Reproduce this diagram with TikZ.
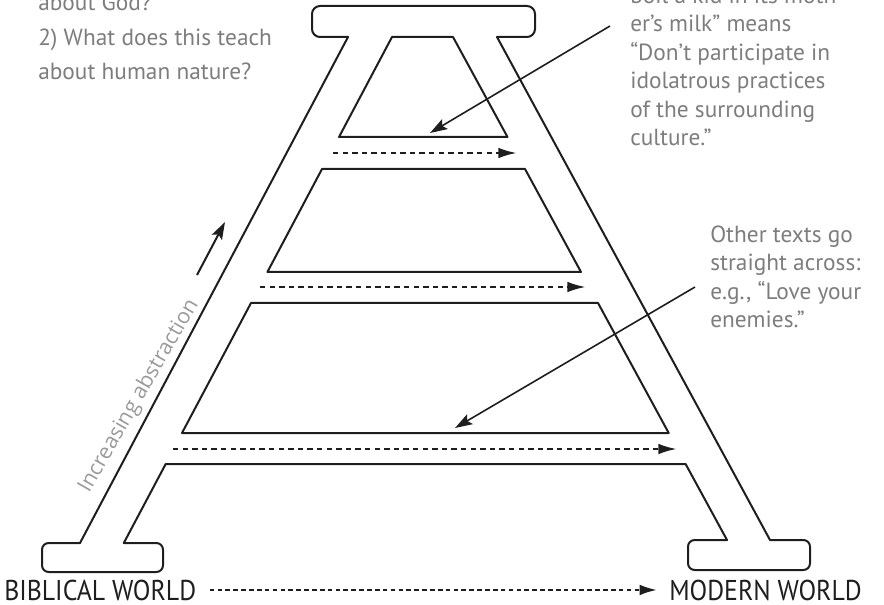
\documentclass[tikz,border=0pt]{standalone}
\usepackage{fontspec}
\setmainfont{PT Sans}
\newfontfamily\condfont[FakeStretch=0.9]{PT Sans}
\newfontfamily\slimfont{Open Sans}
\usetikzlibrary{arrows.meta}
\definecolor{notegray}{HTML}{7D7D7D}
\definecolor{labelgray}{HTML}{9A9A9A}
\definecolor{inkblack}{HTML}{1E1E1E}

\begin{document}
\begin{tikzpicture}[x=0.75pt, y=-0.75pt,
  frame/.style={line width=1.5pt, draw=inkblack, line join=round, line cap=round},
  rung/.style={line width=1.9pt, inkblack, dash pattern=on 4pt off 3.2pt, -{Latex[length=14pt,width=8pt]}},
  world/.style={line width=1.6pt, inkblack, dash pattern=on 3.5pt off 2.4pt, -{Latex[length=13pt,width=8pt]}},
  pointer/.style={line width=1.2pt, inkblack, -{Stealth[length=13pt,width=8.5pt,inset=2.5pt]}},
  note/.style={anchor=base west, align=left, inner sep=0pt, text=notegray, font=\fontsize{17.5}{21.4}\selectfont},
  worldlabel/.style={anchor=base west, inner sep=0pt, text=inkblack, font=\condfont\fontsize{21.5}{24}\selectfont}
]
\useasboundingbox (0,0) rectangle (884,605);
\begin{scope}
\clip (0,0) rectangle (884,605);
\draw[frame, rounded corners=6pt] (348,37) -- (312,37) -- (312,6) -- (535,6) -- (535,37) -- (497,37);
\draw[frame] (348,37) -- (80,543);
\draw[frame] (497,37) -- (770,540);
\draw[frame, rounded corners=5pt] (80,543) -- (42,543) -- (42,572) -- (163,572) -- (163,543) -- (123.8,543);
\draw[frame, rounded corners=5pt] (770,540) -- (810,540) -- (810,570) -- (688,570) -- (688,540) -- (727,540);
\draw[frame] (392,37) -- (453,37) -- (507.5,137) -- (339,137) -- cycle;
\draw[frame] (322,169) -- (525,169) -- (581,272) -- (267.4,272) -- cycle;
\draw[frame] (251,303) -- (598,303) -- (668.7,433) -- (182,433) -- cycle;
\draw[frame] (123.8,543) -- (165.7,464) -- (685.6,464) -- (727,540);

\coordinate (rungA0) at (333,153);
\coordinate (rungA1) at (517,153);
\coordinate (rungB0) at (260,287);
\coordinate (rungB1) at (586,287);
\coordinate (rungC0) at (173,449);
\coordinate (rungC1) at (677,449);
\draw[rung] (rungA0) -- (rungA1);
\draw[rung] (rungB0) -- (rungB1);
\draw[rung] (rungC0) -- (rungC1);

\node[note, font=\fontsize{17.5}{26.2}\selectfont] (godq) at (38,80) {about God?\\2) What does this teach\\about human nature?};
\node[note] (milknote) at (630,146) {boil a kid in its moth-\\er’s milk” means\\“Don’t participate in\\idolatrous practices\\of the surrounding\\culture.”};
\node[note] (othernote) at (710,328) {Other texts go\\straight across:\\e.g., “Love your\\enemies.”};
\coordinate (milktip) at (430,133);
\coordinate (othertip) at (455,428);
\draw[pointer] ([shift={(-20,-120)}]milknote.base west) -- (milktip);
\draw[pointer] ([shift={(-15,-41)}]othernote.base west) -- (othertip);

\node[rotate=60, inner sep=0pt, text=labelgray, font=\slimfont\fontsize{16}{18}\selectfont] (climb) at (139,396) {Increasing abstraction};
\coordinate (climb0) at (197,275);
\coordinate (climb1) at (225,222);
\draw[pointer, line width=1.5pt] (climb0) -- (climb1);

\node[worldlabel] (biblical) at (4,600) {BIBLICAL WORLD};
\node[worldlabel] (modern) at (669,600) {MODERN WORLD};
\draw[world, shorten <=10pt, shorten >=9pt] (biblical.east) -- (modern.west);
\end{scope}
\end{tikzpicture}
\end{document}
